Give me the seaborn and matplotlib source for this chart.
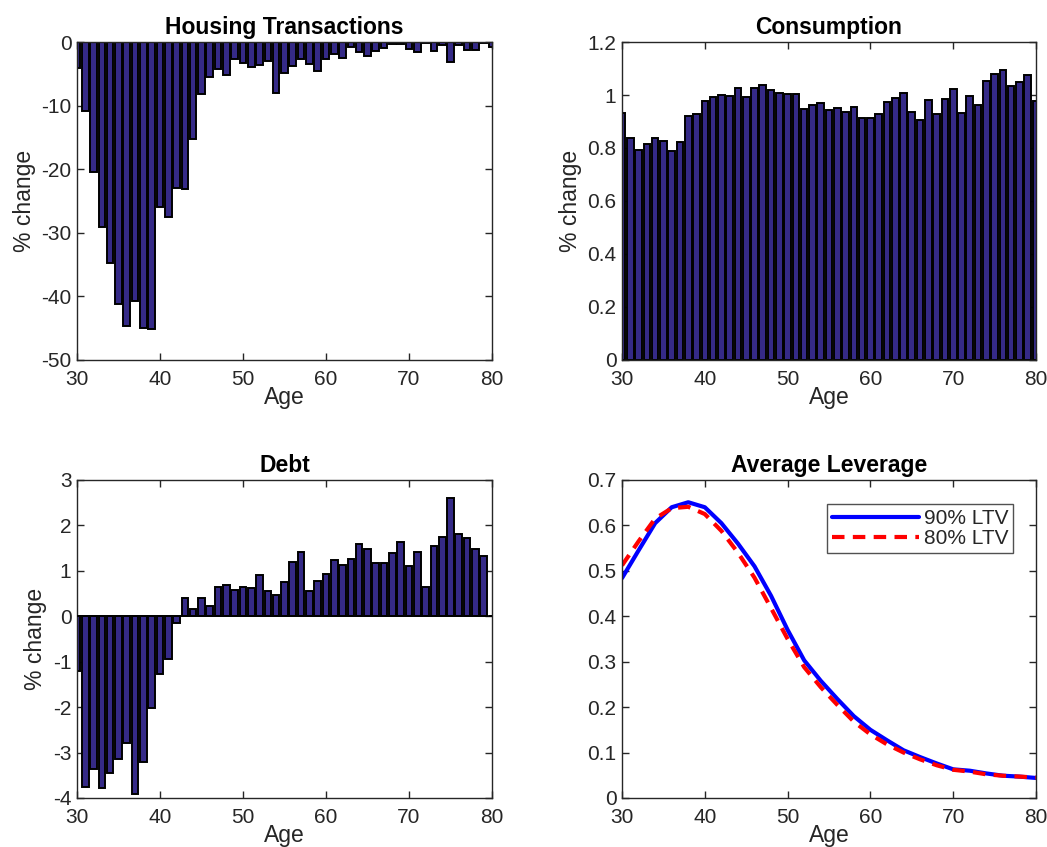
import numpy as np
import pandas as pd
import matplotlib
matplotlib.use('Agg')
import matplotlib.pyplot as plt
from matplotlib.ticker import FuncFormatter
import seaborn as sns

# ages for the bar panels
ages = list(range(30, 81))

housing = [-4.1, -10.85, -20.4, -29.1, -34.8, -41.2, -44.6, -40.8, -44.9, -45.2,
           -25.9, -27.5, -22.9, -23.1, -15.3, -8.2, -5.5, -4.2, -5.2, -2.7,
           -3.25, -3.9, -3.6, -3.0, -8.0, -4.8, -3.7, -2.6, -3.5, -4.5,
           -2.7, -1.9, -2.5, -0.8, -1.6, -2.2, -1.4, -1.0, -0.3, -0.3,
           -1.15, -1.5, -0.2, -1.4, -0.4, -3.1, -0.5, -1.25, -1.25, -0.1,
           -0.8]

consumption = [0.931, 0.837, 0.794, 0.816, 0.838, 0.826, 0.789, 0.824, 0.921, 0.927,
               0.977, 0.994, 0.999, 0.998, 1.028, 0.991, 1.028, 1.038, 1.018, 1.008,
               1.003, 1.003, 0.947, 0.962, 0.970, 0.942, 0.952, 0.935, 0.955, 0.912,
               0.912, 0.930, 0.972, 0.987, 1.008, 0.937, 0.906, 0.980, 0.927, 0.985,
               1.023, 0.931, 0.997, 0.962, 1.053, 1.078, 1.096, 1.035, 1.050, 1.075,
               0.977]

debt = [-1.20, -3.75, -3.36, -3.77, -3.46, -3.15, -2.80, -3.92, -3.21, -2.03,
        -1.28, -0.95, -0.15, 0.40, 0.16, 0.40, 0.23, 0.65, 0.69, 0.58,
        0.645, 0.62, 0.91, 0.56, 0.47, 0.76, 1.19, 1.42, 0.56, 0.78,
        0.94, 1.24, 1.13, 1.26, 1.60, 1.47, 1.17, 1.17, 1.39, 1.64,
        1.10, 1.42, 0.65, 1.54, 1.75, 2.60, 1.82, 1.73, 1.48, 1.33,
        0.0]

# average leverage lines
lev_ages = [30, 32, 34, 36, 38, 40, 42, 44, 46, 48, 50, 52, 54, 56, 58, 60,
            62, 64, 66, 68, 70, 72, 74, 76, 78, 80]
lev_90 = [0.484, 0.545, 0.605, 0.640, 0.651, 0.640, 0.605, 0.560, 0.510, 0.445,
          0.370, 0.303, 0.258, 0.218, 0.180, 0.150, 0.127, 0.105, 0.090, 0.076,
          0.063, 0.060, 0.054, 0.049, 0.047, 0.044]
lev_80 = [0.512, 0.565, 0.615, 0.638, 0.641, 0.625, 0.588, 0.540, 0.485, 0.418,
          0.350, 0.288, 0.244, 0.205, 0.168, 0.140, 0.118, 0.100, 0.085, 0.072,
          0.062, 0.058, 0.052, 0.049, 0.047, 0.045]

sns.set_style('ticks')
plt.rcParams['font.family'] = ['Liberation Sans', 'DejaVu Sans']
plt.rcParams['font.size'] = 15
plt.rcParams['axes.linewidth'] = 1.0
plt.rcParams['axes.edgecolor'] = '#262626'
plt.rcParams['text.color'] = '#262626'
plt.rcParams['axes.labelcolor'] = '#262626'
plt.rcParams['xtick.color'] = '#262626'
plt.rcParams['ytick.color'] = '#262626'

bar_color = '#352A87'
fmt = FuncFormatter(lambda v, p: '%g' % round(v, 3))

fig = plt.figure(figsize=(10.47, 8.47), dpi=100)
ax1 = fig.add_axes([0.0735, 0.5750, 0.3964, 0.3754])
ax2 = fig.add_axes([0.5941, 0.5750, 0.3954, 0.3754])
ax3 = fig.add_axes([0.0735, 0.0579, 0.3964, 0.3754])
ax4 = fig.add_axes([0.5941, 0.0579, 0.3954, 0.3754])


def style_axes(ax):
    ax.tick_params(direction='in', top=True, right=True, length=5, width=1.0,
                   labelsize=15)
    ax.tick_params(axis='x', pad=7)
    ax.tick_params(axis='y', pad=4)
    for s in ax.spines.values():
        s.set_visible(True)
    ax.set_xlim(30, 80)
    ax.set_xticks([30, 40, 50, 60, 70, 80])
    ax.yaxis.set_major_formatter(fmt)


def titles(ax, title, ylabel):
    ax.set_title(title, fontweight='bold', fontsize=16.5, pad=6, color='black')
    ax.set_xlabel('Age', fontsize=16.5, labelpad=-2)
    ax.set_ylabel(ylabel, fontsize=16.5, labelpad=4)


def bars(ax, vals):
    sns.barplot(x=ages, y=vals, native_scale=True, width=0.8, color=bar_color,
                saturation=1, edgecolor='black', linewidth=1.4, ax=ax, zorder=2)


bars(ax1, housing)
style_axes(ax1)
ax1.set_ylim(-50, 0)
ax1.set_yticks([-50, -40, -30, -20, -10, 0])
titles(ax1, 'Housing Transactions', '% change')

bars(ax2, consumption)
style_axes(ax2)
ax2.set_ylim(0, 1.2)
ax2.set_yticks([0, 0.2, 0.4, 0.6, 0.8, 1.0, 1.2])
titles(ax2, 'Consumption', '% change')

bars(ax3, debt)
ax3.axhline(0, color='black', linewidth=1.2, zorder=3)
style_axes(ax3)
ax3.set_ylim(-4, 3)
ax3.set_yticks(range(-4, 4))
titles(ax3, 'Debt', '% change')

lev = pd.DataFrame({
    'Age': lev_ages * 2,
    'value': lev_90 + lev_80,
    'case': ['90% LTV'] * len(lev_ages) + ['80% LTV'] * len(lev_ages),
})
sns.lineplot(data=lev, x='Age', y='value', hue='case', style='case',
             palette={'90% LTV': '#0000FF', '80% LTV': '#FF0000'},
             dashes={'90% LTV': '', '80% LTV': (3, 2)},
             linewidth=3, ax=ax4)
style_axes(ax4)
ax4.set_ylim(0, 0.7)
ax4.set_yticks([0, 0.1, 0.2, 0.3, 0.4, 0.5, 0.6, 0.7])
titles(ax4, 'Average Leverage', '')
leg = ax4.legend(title=None, loc='upper right', bbox_to_anchor=(0.945, 0.925),
                 fontsize=15, frameon=True, fancybox=False, handlelength=4.2,
                 handletextpad=0.2, borderpad=0.25, labelspacing=0.05,
                 borderaxespad=0)
leg.get_frame().set_edgecolor('#262626')
leg.get_frame().set_linewidth(1.0)

fig.savefig('out.png', dpi=100)
